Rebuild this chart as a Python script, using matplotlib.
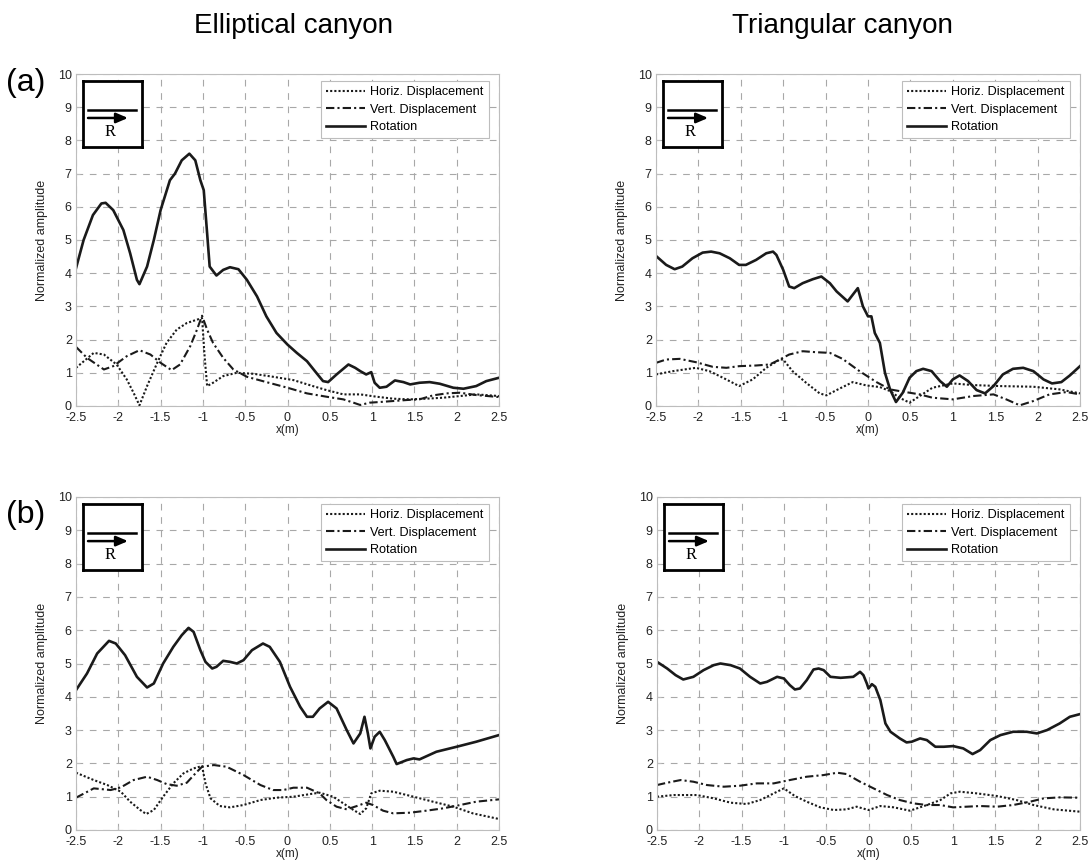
import matplotlib
matplotlib.use("Agg")
import matplotlib.pyplot as plt

plt.rcParams['font.family'] = ['Liberation Sans', 'DejaVu Sans']

# ---------------- data ----------------
ELL_A_ROT = [(-2.5,4.15),(-2.41,5.0),(-2.3,5.75),(-2.2,6.1),(-2.15,6.12),(-2.06,5.9),(-1.94,5.3),(-1.86,4.6),(-1.78,3.8),(-1.75,3.67),(-1.66,4.2),(-1.58,5.0),(-1.5,5.9),(-1.39,6.8),(-1.33,7.0),(-1.25,7.4),(-1.16,7.6),(-1.09,7.4),(-1.03,6.8),(-0.99,6.5),(-0.95,5.2),(-0.92,4.2),(-0.84,3.93),(-0.76,4.1),(-0.68,4.18),(-0.58,4.12),(-0.48,3.8),(-0.36,3.3),(-0.25,2.7),(-0.13,2.2),(0.0,1.85),(0.11,1.6),(0.23,1.35),(0.34,1.0),(0.42,0.75),(0.48,0.72),(0.58,0.95),(0.72,1.25),(0.8,1.15),(0.86,1.05),(0.93,0.95),(0.99,1.02),(1.03,0.7),(1.09,0.55),(1.17,0.58),(1.27,0.77),(1.37,0.72),(1.45,0.65),(1.56,0.7),(1.68,0.72),(1.8,0.67),(1.96,0.55),(2.08,0.52),(2.23,0.6),(2.35,0.75),(2.5,0.85)]
ELL_A_HOR = [(-2.5,1.15),(-2.29,1.6),(-2.17,1.55),(-2.02,1.25),(-1.9,0.8),(-1.82,0.4),(-1.75,0.02),(-1.66,0.6),(-1.54,1.3),(-1.43,1.9),(-1.31,2.3),(-1.19,2.5),(-1.07,2.6),(-1.01,2.65),(-0.98,1.5),(-0.95,0.6),(-0.88,0.7),(-0.76,0.9),(-0.6,1.0),(-0.4,0.97),(-0.17,0.88),(0.07,0.78),(0.3,0.6),(0.46,0.48),(0.66,0.35),(0.86,0.35),(1.05,0.28),(1.25,0.22),(1.45,0.2),(1.64,0.22),(1.84,0.25),(2.04,0.3),(2.23,0.35),(2.5,0.3)]
ELL_A_VER = [(-2.5,1.78),(-2.37,1.45),(-2.17,1.1),(-2.06,1.2),(-1.9,1.5),(-1.75,1.68),(-1.62,1.55),(-1.5,1.3),(-1.37,1.08),(-1.27,1.25),(-1.15,1.8),(-1.07,2.3),(-1.01,2.72),(-0.95,2.3),(-0.88,1.9),(-0.76,1.45),(-0.64,1.1),(-0.48,0.88),(-0.25,0.72),(0.0,0.55),(0.23,0.38),(0.46,0.28),(0.66,0.2),(0.78,0.1),(0.86,0.03),(0.97,0.1),(1.09,0.12),(1.25,0.15),(1.41,0.18),(1.56,0.2),(1.72,0.32),(1.88,0.38),(2.04,0.4),(2.23,0.33),(2.5,0.27)]

TRI_A_ROT = [(-2.5,4.52),(-2.38,4.25),(-2.28,4.12),(-2.19,4.2),(-2.07,4.45),(-1.95,4.62),(-1.85,4.65),(-1.75,4.6),(-1.63,4.45),(-1.52,4.25),(-1.44,4.25),(-1.32,4.4),(-1.2,4.6),(-1.12,4.65),(-1.08,4.55),(-1.0,4.1),(-0.93,3.6),(-0.87,3.55),(-0.77,3.7),(-0.65,3.82),(-0.55,3.9),(-0.45,3.7),(-0.37,3.45),(-0.24,3.15),(-0.18,3.35),(-0.12,3.55),(-0.06,3.0),(0.0,2.7),(0.04,2.7),(0.08,2.2),(0.14,1.9),(0.2,1.0),(0.26,0.5),(0.33,0.12),(0.41,0.4),(0.49,0.85),(0.57,1.05),(0.65,1.12),(0.75,1.05),(0.85,0.75),(0.93,0.58),(1.0,0.8),(1.08,0.92),(1.18,0.75),(1.28,0.48),(1.38,0.38),(1.48,0.6),(1.59,0.95),(1.71,1.12),(1.83,1.15),(1.95,1.05),(2.07,0.8),(2.17,0.68),(2.28,0.72),(2.38,0.92),(2.5,1.2)]
TRI_A_HOR = [(-2.5,0.95),(-2.3,1.05),(-2.03,1.15),(-1.87,1.05),(-1.71,0.85),(-1.52,0.6),(-1.36,0.8),(-1.2,1.15),(-1.04,1.4),(-1.0,1.4),(-0.89,1.05),(-0.73,0.7),(-0.57,0.38),(-0.49,0.32),(-0.37,0.48),(-0.18,0.72),(-0.02,0.62),(0.14,0.57),(0.26,0.45),(0.37,0.25),(0.49,0.1),(0.61,0.3),(0.76,0.55),(1.0,0.68),(1.24,0.63),(1.56,0.6),(1.95,0.58),(2.26,0.5),(2.5,0.38)]
TRI_A_VER = [(-2.5,1.3),(-2.38,1.4),(-2.22,1.42),(-2.03,1.32),(-1.83,1.18),(-1.67,1.15),(-1.52,1.2),(-1.32,1.22),(-1.16,1.25),(-1.04,1.4),(-0.93,1.55),(-0.77,1.65),(-0.61,1.62),(-0.45,1.6),(-0.3,1.42),(-0.1,1.05),(0.1,0.72),(0.26,0.5),(0.37,0.45),(0.61,0.35),(0.76,0.25),(1.0,0.2),(1.24,0.3),(1.48,0.35),(1.63,0.2),(1.79,0.02),(1.95,0.15),(2.14,0.35),(2.34,0.42),(2.5,0.35)]

ELL_B_ROT = [(-2.5,4.2),(-2.37,4.7),(-2.25,5.3),(-2.11,5.68),(-2.03,5.6),(-1.92,5.25),(-1.78,4.6),(-1.66,4.28),(-1.58,4.4),(-1.47,5.0),(-1.35,5.5),(-1.25,5.85),(-1.17,6.07),(-1.11,5.95),(-1.03,5.4),(-0.97,5.05),(-0.89,4.85),(-0.84,4.9),(-0.76,5.08),(-0.68,5.05),(-0.6,5.0),(-0.52,5.1),(-0.42,5.4),(-0.29,5.6),(-0.21,5.5),(-0.09,5.05),(0.03,4.3),(0.15,3.7),(0.23,3.4),(0.3,3.4),(0.38,3.65),(0.48,3.85),(0.58,3.65),(0.7,3.0),(0.78,2.6),(0.86,2.9),(0.91,3.4),(0.95,2.9),(0.98,2.45),(1.03,2.8),(1.09,2.95),(1.15,2.7),(1.25,2.2),(1.29,1.98),(1.41,2.1),(1.49,2.15),(1.56,2.12),(1.76,2.35),(2.0,2.5),(2.23,2.65),(2.5,2.85)]
ELL_B_HOR = [(-2.5,1.72),(-2.29,1.5),(-2.13,1.35),(-1.97,1.15),(-1.86,0.85),(-1.74,0.6),(-1.67,0.48),(-1.58,0.6),(-1.47,1.0),(-1.35,1.4),(-1.23,1.7),(-1.11,1.85),(-1.01,1.92),(-0.97,1.4),(-0.91,0.95),(-0.8,0.72),(-0.68,0.68),(-0.52,0.75),(-0.32,0.9),(-0.13,0.97),(0.07,1.0),(0.27,1.08),(0.38,1.12),(0.54,1.0),(0.66,0.8),(0.78,0.6),(0.86,0.48),(0.93,0.65),(0.99,1.1),(1.09,1.18),(1.25,1.15),(1.49,1.0),(1.72,0.85),(1.96,0.7),(2.19,0.5),(2.5,0.33)]
ELL_B_VER = [(-2.5,0.97),(-2.29,1.25),(-2.09,1.2),(-1.97,1.28),(-1.82,1.5),(-1.66,1.6),(-1.54,1.5),(-1.43,1.38),(-1.31,1.33),(-1.19,1.42),(-1.07,1.75),(-1.01,1.9),(-0.87,1.95),(-0.72,1.9),(-0.52,1.65),(-0.32,1.35),(-0.17,1.2),(-0.05,1.2),(0.07,1.27),(0.23,1.27),(0.38,1.1),(0.46,0.9),(0.58,0.7),(0.7,0.62),(0.82,0.72),(0.93,0.82),(1.01,0.75),(1.13,0.58),(1.25,0.5),(1.45,0.52),(1.64,0.58),(1.84,0.65),(2.04,0.75),(2.23,0.85),(2.5,0.92)]

TRI_B_ROT = [(-2.5,5.05),(-2.38,4.85),(-2.28,4.65),(-2.19,4.52),(-2.07,4.6),(-1.95,4.8),(-1.83,4.95),(-1.75,5.0),(-1.63,4.95),(-1.52,4.85),(-1.4,4.6),(-1.28,4.4),(-1.2,4.45),(-1.08,4.6),(-1.0,4.55),(-0.93,4.35),(-0.87,4.22),(-0.81,4.25),(-0.73,4.5),(-0.65,4.82),(-0.59,4.85),(-0.53,4.8),(-0.45,4.6),(-0.33,4.57),(-0.18,4.6),(-0.1,4.75),(-0.06,4.65),(-0.02,4.4),(0.0,4.25),(0.04,4.38),(0.08,4.3),(0.14,3.9),(0.2,3.2),(0.26,2.95),(0.37,2.75),(0.45,2.63),(0.51,2.65),(0.61,2.75),(0.69,2.7),(0.79,2.5),(0.89,2.5),(1.0,2.52),(1.12,2.45),(1.23,2.28),(1.32,2.4),(1.44,2.7),(1.56,2.85),(1.71,2.95),(1.87,2.95),(1.99,2.9),(2.11,3.0),(2.26,3.2),(2.38,3.4),(2.5,3.48)]
TRI_B_HOR = [(-2.5,1.0),(-2.3,1.05),(-2.03,1.05),(-1.83,0.95),(-1.63,0.82),(-1.44,0.78),(-1.28,0.9),(-1.12,1.1),(-1.0,1.25),(-0.87,1.02),(-0.73,0.85),(-0.57,0.68),(-0.41,0.6),(-0.26,0.62),(-0.14,0.7),(0.0,0.6),(0.14,0.72),(0.3,0.68),(0.49,0.58),(0.69,0.75),(0.85,0.9),(0.97,1.1),(1.08,1.15),(1.28,1.1),(1.52,1.02),(1.75,0.9),(1.95,0.75),(2.19,0.62),(2.5,0.55)]
TRI_B_VER = [(-2.5,1.35),(-2.38,1.42),(-2.22,1.5),(-2.07,1.45),(-1.91,1.35),(-1.71,1.3),(-1.52,1.33),(-1.32,1.4),(-1.12,1.4),(-0.93,1.5),(-0.73,1.6),(-0.53,1.65),(-0.37,1.72),(-0.26,1.68),(-0.1,1.45),(0.06,1.25),(0.22,1.05),(0.37,0.9),(0.53,0.8),(0.69,0.75),(0.85,0.75),(1.0,0.68),(1.16,0.7),(1.32,0.72),(1.52,0.7),(1.71,0.75),(1.91,0.85),(2.07,0.95),(2.26,0.98),(2.5,0.97)]

SERIES_LABELS = ["Horiz. Displacement", "Vert. Displacement", "Rotation"]
COL_TITLES = ["Elliptical canyon", "Triangular canyon"]
ROW_LABELS = ["(a)", "(b)"]
X_TICKS = [-2.5, -2, -1.5, -1, -0.5, 0, 0.5, 1, 1.5, 2, 2.5]
X_TICKLABELS = ["-2.5", "-2", "-1.5", "-1", "-0.5", "0", "0.5", "1", "1.5", "2", "2.5"]
Y_TICKS = list(range(0, 11))

PANELS = [
    [(ELL_A_HOR, ELL_A_VER, ELL_A_ROT), (TRI_A_HOR, TRI_A_VER, TRI_A_ROT)],
    [(ELL_B_HOR, ELL_B_VER, ELL_B_ROT), (TRI_B_HOR, TRI_B_VER, TRI_B_ROT)],
]

# ---------------- figure ----------------
W, H = 1090, 865
fig = plt.figure(figsize=(W / 100, H / 100), dpi=100)

def px_axes(left, top, right, bottom):
    return fig.add_axes([left / W, 1 - bottom / H, (right - left) / W, (bottom - top) / H])

boxes = [
    [(76, 74, 499, 406), (656, 74, 1080, 406)],
    [(76, 497, 499, 830), (657, 497, 1080, 830)],
]

LINE_COL = "#1a1a1a"
styles = [
    dict(linestyle=(0, (1, 1)), linewidth=1.5),
    dict(linestyle=(0, (4, 1.5, 1, 1.5)), linewidth=1.5),
    dict(linestyle="-", linewidth=1.9),
]

for r in range(2):
    for c in range(2):
        ax = px_axes(*boxes[r][c])
        for data, st, lab in zip(PANELS[r][c], styles, SERIES_LABELS):
            xs = [p[0] for p in data]
            ys = [p[1] for p in data]
            ax.plot(xs, ys, color=LINE_COL, label=lab, **st)
        ax.set_xlim(-2.5, 2.5)
        ax.set_ylim(0, 10)
        ax.set_xticks(X_TICKS)
        ax.set_xticklabels(X_TICKLABELS)
        ax.set_yticks(Y_TICKS)
        ax.grid(True, color="#a8a8a8", linestyle=(0, (6, 6)), linewidth=0.8)
        for s in ax.spines.values():
            s.set_color("#bdbdbd")
            s.set_linewidth(0.8)
        ax.tick_params(direction="in", length=3, color="#bdbdbd", labelsize=9,
                       labelcolor="#222222")
        ax.tick_params(axis="x", pad=4.5)
        ax.tick_params(axis="y", pad=3)
        ax.set_xlabel("x(m)", fontsize=8.5, labelpad=0, color="#222222")
        ax.set_ylabel("Normalized amplitude", fontsize=9, labelpad=7, color="#222222")
        leg = ax.legend(loc="upper right", bbox_to_anchor=(0.976, 0.979), borderaxespad=0,
                        fontsize=9.1, handlelength=3.1, handletextpad=0.4,
                        labelspacing=0.45, borderpad=0.4, fancybox=False, framealpha=1)
        leg.get_frame().set_edgecolor("#bdbdbd")
        leg.get_frame().set_linewidth(0.8)

        # inset sketch box
        ins = ax.inset_axes([0.0165, 0.78, 0.14, 0.199])
        ins.set_xlim(0, 1)
        ins.set_ylim(0, 1)
        ins.set_xticks([])
        ins.set_yticks([])
        for s in ins.spines.values():
            s.set_color("black")
            s.set_linewidth(2)
        ins.plot([0.085, 0.9], [0.56, 0.56], color="black", lw=1.8)
        ins.annotate("", xy=(0.76, 0.44), xytext=(0.085, 0.44),
                     arrowprops=dict(arrowstyle="-|>,head_length=0.7,head_width=0.3",
                                     color="black", lw=1.8, shrinkA=0, shrinkB=0))
        ins.text(0.46, 0.23, "R", ha="center", va="center", fontsize=12,
                 family=["Liberation Serif", "DejaVu Serif"])

# column titles and row labels
fig.text(294 / W, 1 - 26 / H, COL_TITLES[0], ha="center", va="center", fontsize=20)
fig.text(842 / W, 1 - 26 / H, COL_TITLES[1], ha="center", va="center", fontsize=20)
fig.text(26 / W, 1 - 83 / H, ROW_LABELS[0], ha="center", va="center", fontsize=23)
fig.text(26 / W, 1 - 515 / H, ROW_LABELS[1], ha="center", va="center", fontsize=23)

fig.savefig("out.png", dpi=100)
